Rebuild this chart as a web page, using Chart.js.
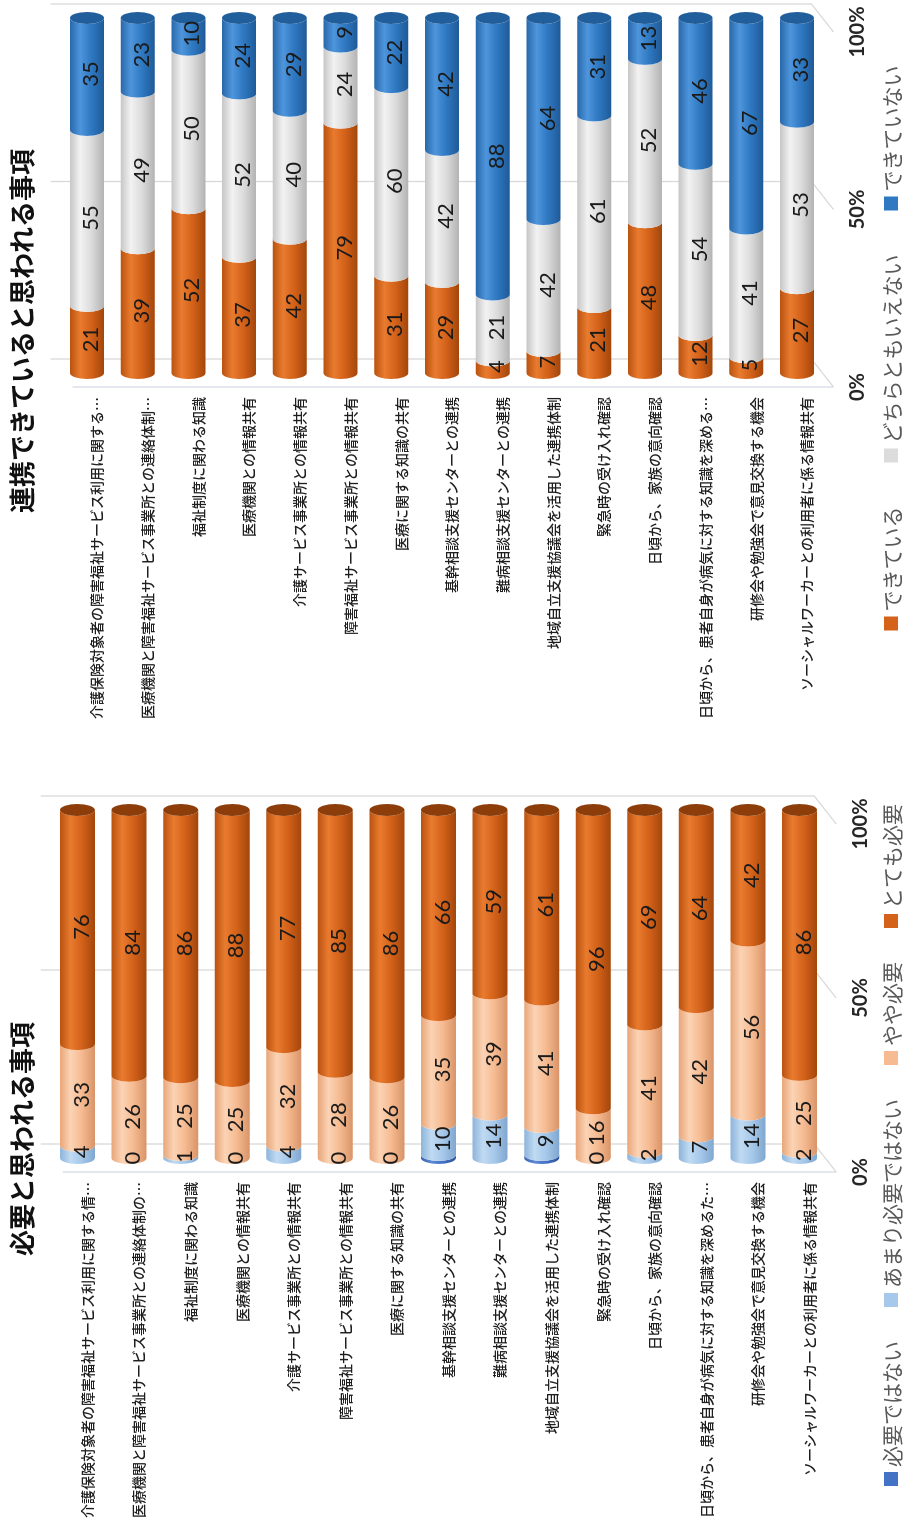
<!DOCTYPE html>
<html lang="ja">
<head>
<meta charset="utf-8">
<script src="https://cdn.jsdelivr.net/npm/chart.js@4.4.1/dist/chart.umd.min.js"></script>
<style>
  html, body { margin: 0; padding: 0; background: #fff; width: 912px; height: 1532px; overflow: hidden; }
  /* the sheet is laid out landscape and turned a quarter turn to the left */
  #sheet { position: absolute; left: 0; top: 0; width: 1532px; height: 912px; background: #fff;
           transform-origin: 0 0; transform: translateY(1532px) rotate(-90deg); }
  #need { position: absolute; left: 0; top: 0; }
  #link { position: absolute; left: 760px; top: 0; }
</style>
</head>
<body>
<div id="sheet">
  <canvas id="need" width="760" height="912"></canvas>
  <canvas id="link" width="772" height="912"></canvas>
</div>
<script>
// ---- categories (shared by both charts) ----
const categories = [
  '介護保険対象者の障害福祉サービス利用に関する情報共有',
  '医療機関と障害福祉サービス事業所との連絡体制の構築',
  '福祉制度に関わる知識',
  '医療機関との情報共有',
  '介護サービス事業所との情報共有',
  '障害福祉サービス事業所との情報共有',
  '医療に関する知識の共有',
  '基幹相談支援センターとの連携',
  '難病相談支援センターとの連携',
  '地域自立支援協議会を活用した連携体制',
  '緊急時の受け入れ確認',
  '日頃から、家族の意向確認',
  '日頃から、患者自身が病気に対する知識を深めるための支援',
  '研修会や勉強会で意見交換する機会',
  'ソーシャルワーカーとの利用者に係る情報共有'
];

// ---- 必要と思われる事項 (counts) ----
const needLabels = ['必要ではない', 'あまり必要ではない', 'やや必要', 'とても必要'];
const notNeeded    = [0, 0, 0, 0, 0, 0, 0, 1, 0, 1, 0, 0, 0, 0, 0];
const littleNeeded = [4, 0, 1, 0, 4, 0, 0, 10, 14, 9, 0, 2, 7, 14, 2];
const ratherNeeded = [33, 26, 25, 25, 32, 28, 26, 35, 39, 41, 16, 41, 42, 56, 25];
const veryNeeded   = [76, 84, 86, 88, 77, 85, 86, 66, 59, 61, 96, 69, 64, 42, 86];

// ---- 連携できていると思われる事項 (counts) ----
const linkLabels = ['できている', 'どちらともいえない', 'できていない'];
const linked    = [21, 39, 52, 37, 42, 79, 31, 29, 4, 7, 21, 48, 12, 5, 27];
const neither   = [55, 49, 50, 52, 40, 24, 60, 42, 21, 42, 61, 52, 54, 41, 53];
const notLinked = [35, 23, 10, 24, 29, 9, 22, 42, 88, 64, 31, 13, 46, 67, 33];

// ---- value axis ticks (percent) ----
const valueTicks = [0, 50, 100];

// cylinder shading: top edge, highlight, body, bottom edge, end cap
const ORANGE = { edge: '#B9520F', hi: '#E97B2F', mid: '#D4621A', dark: '#A3460B', cap: '#8C3D0A' };
const PEACH  = { edge: '#E8A679', hi: '#FBD3B5', mid: '#F6BB91', dark: '#D99469', cap: '#E2A47B' };
const SKY    = { edge: '#8DB4DA', hi: '#C0DAF2', mid: '#A6C8EA', dark: '#80A7CF', cap: '#8FB4D9' };
const NAVY   = { edge: '#3A63B0', hi: '#5C88D4', mid: '#4472C4', dark: '#2E539C', cap: '#2B4F94' };
const GREY   = { edge: '#C6C6C6', hi: '#F2F2F2', mid: '#DCDCDC', dark: '#B3B3B3', cap: '#C2C2C2' };
const BLUE   = { edge: '#2868AA', hi: '#4E95DC', mid: '#2F79C2', dark: '#1F5A98', cap: '#215E9C' };

function shorten(s, n) { return s.length > n ? s.slice(0, n) + '…' : s; }

function toPercent(series, all) {
  return series.map((v, j) => {
    const total = all.reduce((t, s) => t + s[j], 0);
    return v / total * 100;
  });
}

const cylinderPlugin = {
  id: 'cylinders',
  beforeDatasetsDraw(chart, args, o) {
    const ctx = chart.ctx, xs = chart.scales.x, ca = chart.chartArea;
    const topB = ca.top - o.dy, botB = ca.bottom - o.dy;
    ctx.save();
    ctx.strokeStyle = '#D9D9D9';
    ctx.lineWidth = 1.3;
    valueTicks.forEach(v => {
      const X = xs.getPixelForValue(v) + o.dx;
      ctx.beginPath();
      ctx.moveTo(X, topB); ctx.lineTo(X, botB);
      ctx.lineTo(X - 2 * o.dx, botB + 2 * o.dy);
      ctx.stroke();
    });
    // front edge of the side wall at zero
    const X0 = xs.getPixelForValue(0) - o.dx;
    ctx.strokeStyle = '#D6DCE5';
    ctx.beginPath();
    ctx.moveTo(X0, topB + 2 * o.dy); ctx.lineTo(X0, botB + 2 * o.dy);
    ctx.stroke();
    ctx.restore();
  },
  beforeDatasetDraw() { return false; },
  afterDatasetsDraw(chart, args, o) {
    const ctx = chart.ctx;
    const metas = chart.data.datasets.map((d, i) => chart.getDatasetMeta(i));
    const n = chart.data.labels.length;
    const rx = o.rx;
    ctx.save();
    const texts = [];
    for (let j = 0; j < n; j++) {
      let last = null;
      metas.forEach((meta, i) => {
        const el = meta.data[j];
        const p = el.getProps(['x', 'y', 'base', 'height'], true);
        const x0 = Math.min(p.x, p.base), x1 = Math.max(p.x, p.base);
        const r = p.height / 2, y = p.y;
        const st = o.styles[i];
        if (o.labelled[i]) {
          texts.push({ t: String(chart.data.datasets[i].counts[j]), x: (x0 + x1) / 2, y: y + 4 });
        }
        if (x1 - x0 < 0.05) return;
        const g = ctx.createLinearGradient(0, y - r, 0, y + r);
        g.addColorStop(0, st.edge);
        g.addColorStop(0.3, st.hi);
        g.addColorStop(0.62, st.mid);
        g.addColorStop(1, st.dark);
        ctx.beginPath();
        ctx.moveTo(x0, y - r);
        ctx.lineTo(x1, y - r);
        ctx.ellipse(x1, y, rx, r, 0, -Math.PI / 2, Math.PI / 2, true);
        ctx.lineTo(x0, y + r);
        ctx.ellipse(x0, y, rx, r, 0, Math.PI / 2, Math.PI * 1.5, false);
        ctx.closePath();
        ctx.fillStyle = g;
        ctx.fill();
        last = { x1, y, r, st };
      });
      if (last) {
        ctx.beginPath();
        ctx.ellipse(last.x1, last.y, rx, last.r, 0, 0, Math.PI * 2);
        ctx.fillStyle = last.st.cap;
        ctx.fill();
      }
    }
    ctx.fillStyle = '#1A1A1A';
    ctx.font = '22px Lato, "Liberation Sans", sans-serif';
    ctx.textAlign = 'center';
    ctx.textBaseline = 'middle';
    texts.forEach(t => ctx.fillText(t.t, t.x, t.y));
    ctx.restore();
  },
  afterDraw(chart, args, o) {
    const ctx = chart.ctx, xs = chart.scales.x, ca = chart.chartArea;
    ctx.save();
    // title
    ctx.fillStyle = '#111';
    ctx.font = 'bold 26px "Noto Sans CJK JP"';
    ctx.textAlign = 'center';
    ctx.textBaseline = 'middle';
    ctx.fillText(o.title, o.titleX, 22);
    // value axis labels along the front edge of the floor
    ctx.fillStyle = '#262626';
    ctx.font = 'bold 20px Lato, "Liberation Sans", sans-serif';
    valueTicks.forEach(v => {
      ctx.fillText(v + '%', xs.getPixelForValue(v) - o.dx, ca.bottom + 2 * o.dy + 13);
    });
    // legend
    ctx.font = '21px "Noto Sans CJK JP"';
    ctx.textAlign = 'left';
    const box = 14, gapBT = 5, gap = o.legendGap;
    const items = chart.data.datasets.map((d, i) => ({ text: d.label, color: o.styles[i].mid }));
    const widths = items.map(it => box + gapBT + ctx.measureText(it.text).width);
    const total = widths.reduce((a, b) => a + b, 0) + gap * (items.length - 1);
    let x = o.legendX - total / 2;
    const ly = 891;
    items.forEach((it, i) => {
      ctx.fillStyle = it.color;
      ctx.fillRect(x, ly - box / 2, box, box);
      ctx.fillStyle = '#595959';
      ctx.fillText(it.text, x + box + gapBT, ly + 1);
      x += widths[i] + gap;
    });
    ctx.restore();
  }
};

function makeChart(id, seriesLabels, series, styles, labelled, cfg) {
  const datasets = series.map((s, i) => ({
    label: seriesLabels[i],
    data: toPercent(s, series),
    counts: s,
    backgroundColor: styles[i].mid,
    barThickness: cfg.bar,
    stack: 'all'
  }));
  return new Chart(document.getElementById(id), {
    type: 'bar',
    data: { labels: categories, datasets },
    plugins: [cylinderPlugin],
    options: {
      responsive: false,
      animation: false,
      indexAxis: 'y',
      layout: { padding: { top: cfg.top, bottom: cfg.bottom, left: 0, right: cfg.right } },
      scales: {
        x: { type: 'linear', stacked: true, min: 0, max: 100, display: false },
        y: {
          stacked: true,
          grid: { display: false, drawTicks: false },
          border: { display: false },
          ticks: {
            autoSkip: false,
            padding: 24,
            labelOffset: 10,
            color: '#1E1E1E',
            font: { family: '"Noto Sans CJK JP"', size: 14, weight: '500' },
            callback: (v, i) => shorten(categories[i], cfg.cut)
          },
          afterFit: s => { s.width = cfg.axisWidth; }
        }
      },
      plugins: {
        legend: { display: false },
        title: { display: false },
        tooltip: { enabled: false },
        cylinders: {
          dx: 14, dy: 11, rx: 6,
          styles, labelled,
          title: cfg.title, titleX: cfg.titleX,
          legendX: cfg.legendX, legendGap: cfg.legendGap
        }
      }
    }
  });
}

makeChart('need', needLabels,
  [notNeeded, littleNeeded, ratherNeeded, veryNeeded],
  [NAVY, SKY, PEACH, ORANGE],
  [false, true, true, true],
  { title: '必要と思われる事項', titleX: 393, legendX: 387, legendGap: 34,
    top: 51.7, bottom: 86.7, right: 38, axisWidth: 374, bar: 35, cut: 23 });

makeChart('link', linkLabels,
  [linked, neither, notLinked],
  [ORANGE, GREY, BLUE],
  [true, true, true],
  { title: '連携できていると思われる事項', titleX: 441, legendX: 424, legendGap: 44,
    top: 61.6, bottom: 89.6, right: 18, axisWidth: 399, bar: 34, cut: 22 });
</script>
</body>
</html>
